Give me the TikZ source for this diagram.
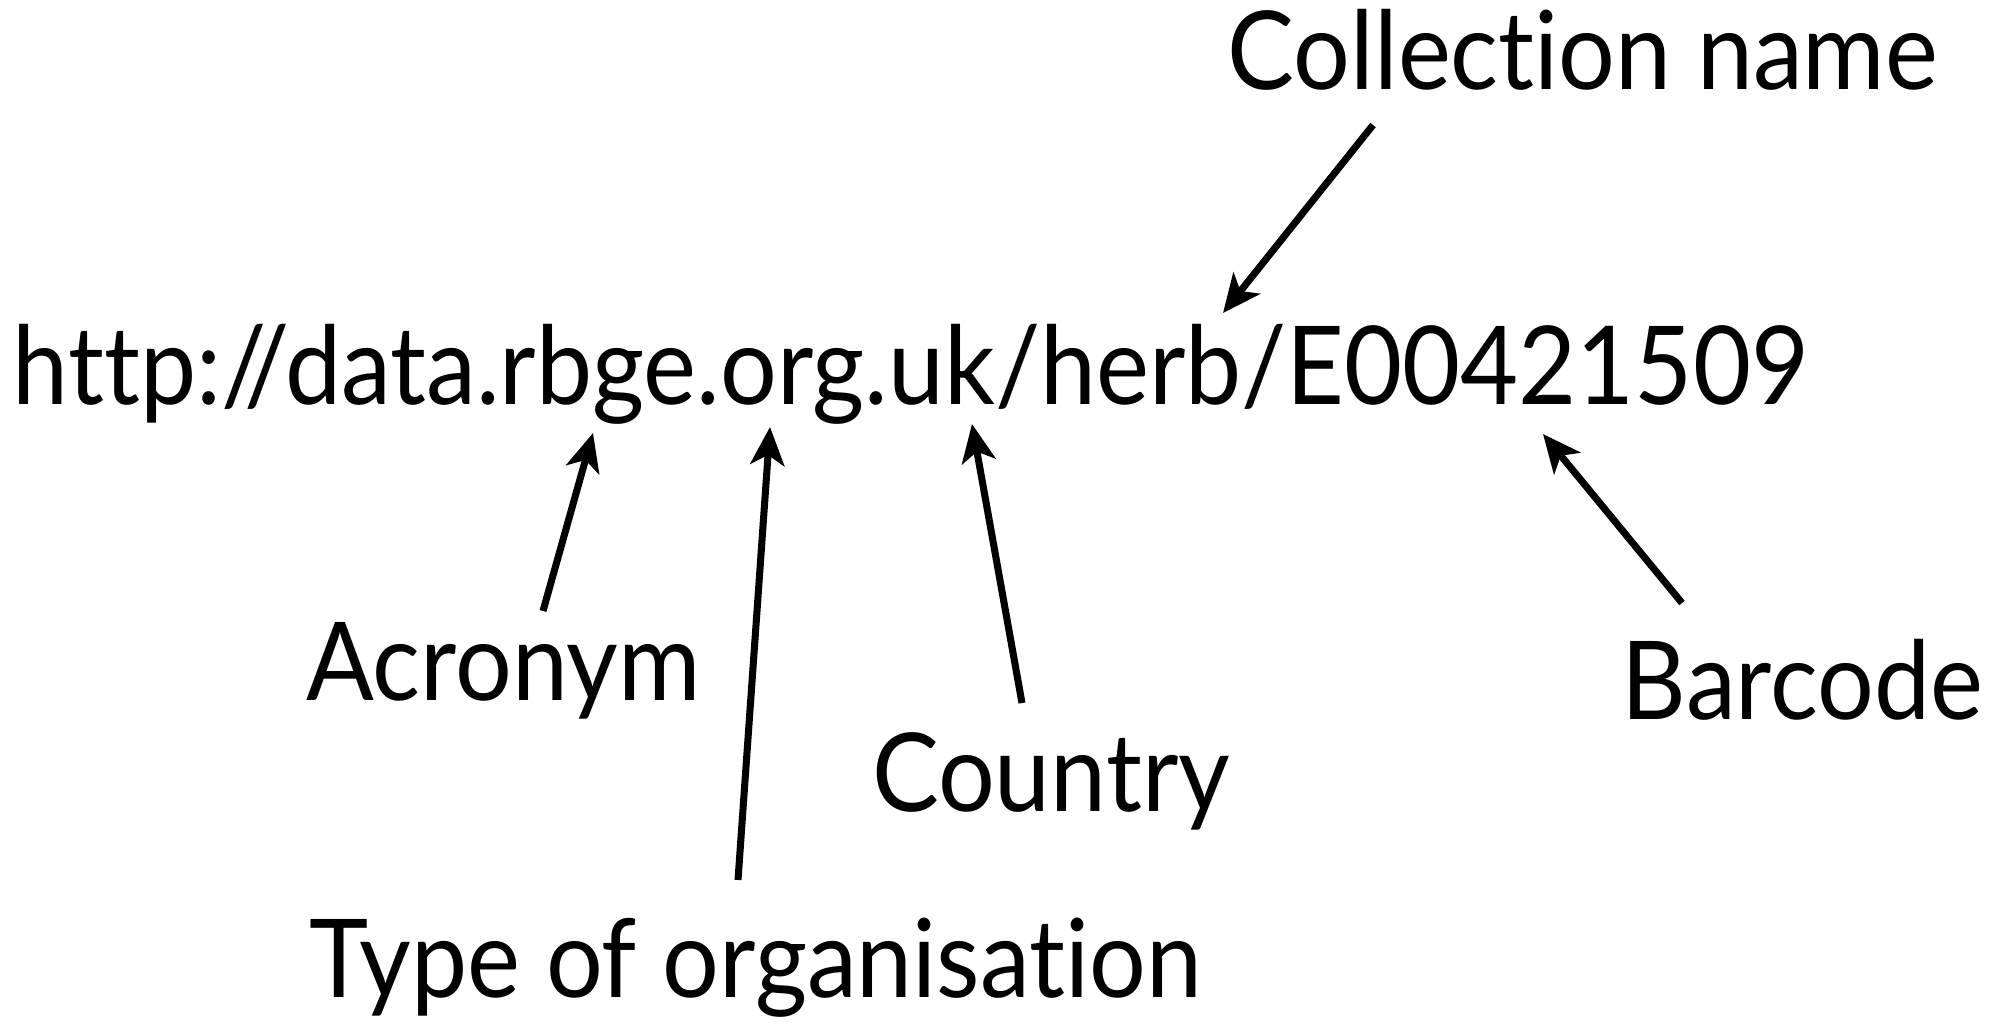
\documentclass[tikz,border=0pt]{standalone}
\usepackage{fontspec}
\setmainfont{Lato}[Ligatures=NoCommon, FakeStretch=0.92]
\usepackage{tikz}
\usetikzlibrary{positioning,arrows.meta}

\tikzset{
  lbl/.style={inner sep=0pt, anchor=base, font=\fontsize{31}{37}\selectfont},
  pointer/.style={-{Stealth[length=3.8mm, width=3.4mm, inset=1mm]}, line width=2pt}
}

\begin{document}
\begin{tikzpicture}[x=1mm, y=-1mm]
        \useasboundingbox (0,0) rectangle (200.7,102.3);
        % the address itself
        \node[lbl] (url) at (91.1,40.5) {http://data.rbge.org.uk/herb/E00421509};
        % its parts
        \node[lbl] (coll) at (158.3,9.0) {Collection name};
        \node[lbl] (acro) at (50.35,70.1) {Acronym};
        \node[lbl] (type) at (75.55,99.7) {Type of organisation};
        \node[lbl] (ctry) at (105.1,81.1) {Country};
        \node[lbl] (barc) at (180.25,71.9) {Barcode};
        % where the arrows start and end
        \coordinate (coll-from) at (137.3,12.5);
        \coordinate (coll-to) at (122.3,31.3);
        \coordinate (acro-from) at (54.3,61.1);
        \coordinate (acro-to) at (59.3,43.3);
        \coordinate (type-from) at (73.8,88.0);
        \coordinate (type-to) at (77.0,42.7);
        \coordinate (ctry-from) at (102.2,70.3);
        \coordinate (ctry-to) at (97.2,42.4);
        \coordinate (barc-from) at (168.2,60.3);
        \coordinate (barc-to) at (154.3,43.4);
        \draw[pointer] (coll-from) -- (coll-to);
        \draw[pointer] (acro-from) -- (acro-to);
        \draw[pointer] (type-from) -- (type-to);
        \draw[pointer] (ctry-from) -- (ctry-to);
        \draw[pointer] (barc-from) -- (barc-to);
      \end{tikzpicture}
\end{document}
